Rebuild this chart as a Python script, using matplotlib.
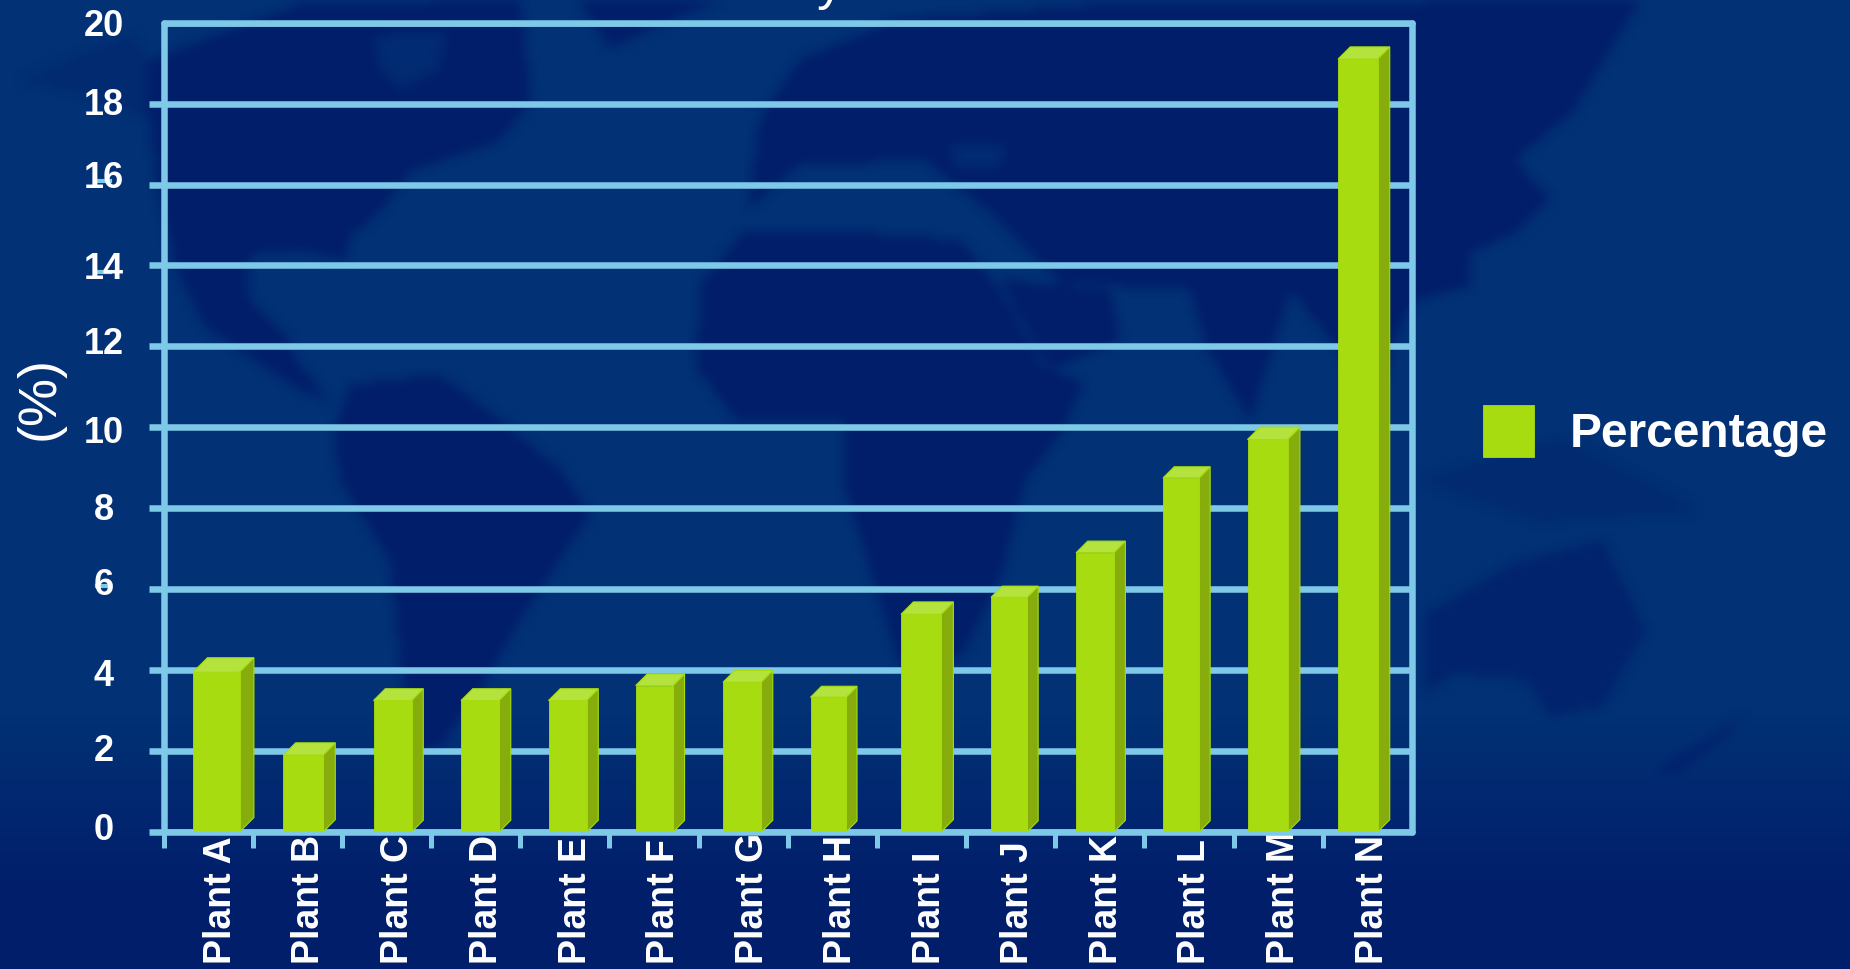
import numpy as np
import matplotlib
matplotlib.use("Agg")
import matplotlib.pyplot as plt
from matplotlib.path import Path
from matplotlib.patches import Polygon
from matplotlib.lines import Line2D
from matplotlib.transforms import ScaledTranslation

# ---------- data ----------
categories = ["Plant A", "Plant B", "Plant C", "Plant D", "Plant E", "Plant F", "Plant G",
              "Plant H", "Plant I", "Plant J", "Plant K", "Plant L", "Plant M", "Plant N"]
percentages = [3.95, 1.9, 3.25, 3.25, 3.25, 3.62, 3.7, 3.33, 5.38, 5.8, 6.9, 8.75, 9.7, 19.1]
y_ticks = [0, 2, 4, 6, 8, 10, 12, 14, 16, 18, 20]
series_name = "Percentage"
y_title = "(%)"

# ---------- style / layout (pixels of the 1850x969 canvas) ----------
W, H, DPI = 1850, 969, 100
AX_L, AX_R, AX_T, AX_B = 163.5, 1412, 22.7, 832
bar_left_px = [193, 283.3, 373.5, 461, 548.5, 635.7, 723, 810.5, 901, 991, 1076, 1163, 1247.5, 1338]
bar_right_px = [239.5, 323, 411.5, 499, 586.5, 673, 761, 846, 941, 1027, 1113.7, 1199, 1287.5, 1377.5]
label_center_px = [215.7, 304, 393, 482, 571, 659, 748, 836, 925, 1013, 1101.7, 1190, 1279, 1368]
label_nudge_px = 5
y_label_center_px = 103.5
y_label_shift_px = {0: -5, 2: -4, 4: 2, 6: -8, 8: -2, 10: 2, 12: -5.5, 14: 0.5, 16: -10.5, 18: -2, 20: 0}
stub_ticks_px = [(97, 110, 181), (97, 110, 272), (97, 110, 586)]
FRONT, SIDE, TOP = "#A6DC10", "#86AD0C", "#B4E33E"
LINE = "#7EC8E8"
WHITE = "white"
plt.rcParams["font.family"] = ["Liberation Sans", "DejaVu Sans"]

fig = plt.figure(figsize=(W / DPI, H / DPI), dpi=DPI)

# ---------- decorative backdrop: gradient + soft world-map silhouette (canvas pixels) ----------
land = [
    (1.0, [(150,60),(300,5),(520,0),(531,100),(501,140),(413,170),(383,207),(348,240),(345,260),(300,250),
           (248,255),(248,300),(289,340),(295,360),(330,400),(300,390),(206,327),(177,270),(160,200),(150,120)]),
    (0.35, [(20,80),(130,35),(150,60),(150,120),(90,95)]),
    (1.0, [(578,0),(720,0),(660,25),(610,48)]),
    (1.0, [(350,385),(440,375),(500,420),(560,470),(590,515),(560,560),(520,620),(480,690),(440,745),(410,750),
           (400,650),(390,560),(340,480),(335,430)]),
    (1.0, [(743,233),(702,283),(696,367),(737,420),(843,420),(843,480),(880,600),(900,665),(960,657),(1002,573),
           (1025,480),(1061,433),(1084,383),(1043,367),(1000,290),(960,240),(860,233)]),
    (1.0, [(1000,280),(1110,290),(1120,340),(1050,370)]),
    (1.0, [(749,207),(760,120),(800,60),(900,20),(1100,5),(1640,0),(1574,110),(1515,160),(1550,200),(1515,233),
           (1468,253),(1468,287),(1415,300),(1397,333),(1370,420),(1340,350),(1290,290),(1250,420),(1208,350),
           (1190,290),(1060,283),(1000,220),(925,160),(800,165)]),
    (0.35, [(1420,480),(1560,440),(1700,510),(1540,520)]),
    (0.7, [(1426,613),(1515,563),(1603,540),(1645,630),(1603,707),(1550,717),(1527,680),(1456,673),(1426,693)]),
    (0.5, [(1656,770),(1745,713),(1730,735),(1675,775)]),
]
water = [
    [(372,35),(448,30),(440,70),(400,90),(380,70)],
    [(949,143),(1007,143),(1000,170),(955,170)],
]
gw, gh = W // 4, H // 4
gx, gy = np.meshgrid((np.arange(gw) + .5) * W / gw, (np.arange(gh) + .5) * H / gh)
pts = np.c_[gx.ravel(), gy.ravel()]
mask = np.zeros(gx.shape)
for strength, poly in land:
    mask = np.maximum(mask, strength * Path(poly).contains_points(pts).reshape(gx.shape))
for poly in water:
    mask[Path(poly).contains_points(pts).reshape(gx.shape)] *= 0.3
kern = np.ones(3) / 3
for _ in range(2):
    mask = np.apply_along_axis(lambda r: np.convolve(r, kern, mode="same"), 0, mask)
    mask = np.apply_along_axis(lambda r: np.convolve(r, kern, mode="same"), 1, mask)
ocean = np.array([2, 49, 117], float)
deep = np.array([1, 30, 107], float)
t = np.clip((gy / H - 0.74) / 0.18, 0, 1)[..., None]
mix = np.clip(mask[..., None] + t, 0, 1)
img = ocean * (1 - mix) + deep * mix
bg = fig.add_axes([0, 0, 1, 1], zorder=0)
bg.imshow(img.astype(np.uint8), extent=(0, W, H, 0), aspect="auto", interpolation="bilinear")
bg.set_xlim(0, W); bg.set_ylim(H, 0)
bg.axis("off")

# ---------- chart ----------
ax = fig.add_axes([AX_L / W, 1 - AX_B / H, (AX_R - AX_L) / W, (AX_B - AX_T) / H], zorder=1)
ax.patch.set_alpha(0)
n = len(categories)
ax.set_xlim(0, n)
ax.set_ylim(0, 20)
px_x = (AX_R - AX_L) / n
px_y = (AX_B - AX_T) / 20

lefts = [(p - AX_L) / px_x for p in bar_left_px]
widths = [(r - p) / px_x for p, r in zip(bar_left_px, bar_right_px)]
bars = ax.bar(lefts, percentages, width=widths, align="edge", color=FRONT, edgecolor=FRONT,
              linewidth=0.6, zorder=5, label=series_name)
for x0, w, v, l, r in zip(lefts, widths, percentages, bar_left_px, bar_right_px):
    d = 0.31 * (r - l)
    dx, dy = d / px_x, d / px_y
    x1 = x0 + w
    ax.add_patch(Polygon([(x1, 0), (x1 + dx, dy), (x1 + dx, v + dy), (x1, v)], closed=True,
                         facecolor=SIDE, edgecolor=FRONT, linewidth=0.8, zorder=4))
    ax.add_patch(Polygon([(x0, v), (x0 + dx, v + dy), (x1 + dx, v + dy), (x1, v)], closed=True,
                         facecolor=TOP, edgecolor=FRONT, linewidth=0.8, zorder=4))

ax.set_axisbelow(True)
ax.yaxis.grid(True, color=LINE, linewidth=4.7, zorder=1)
ax.xaxis.grid(False)
for s in ax.spines.values():
    s.set_color(LINE)
    s.set_linewidth(4.7)
    s.set_zorder(2)
    s.set_capstyle("round")

TICK_PT = 11
ax.set_yticks(y_ticks)
ax.set_yticklabels([str(v) for v in y_ticks], fontsize=26, fontweight="bold", color=WHITE, ha="center")
pad_pt = (AX_L - TICK_PT * DPI / 72 - y_label_center_px) * 72 / DPI
ax.tick_params(axis="y", length=TICK_PT, width=4.7, color=LINE, pad=pad_pt)
for v, lab in zip(y_ticks, ax.get_yticklabels()):
    lab.set_transform(lab.get_transform() +
                      ScaledTranslation(0, -y_label_shift_px[v] / DPI, fig.dpi_scale_trans))
    lab.set_zorder(6)
ax.yaxis.get_major_ticks()[-1].tick1line.set_visible(False)

ax.set_xticks(range(n + 1))
ax.set_xticklabels([])
ax.tick_params(axis="x", which="major", length=11.5, width=3.6, color=LINE)
ax.xaxis.get_major_ticks()[-1].tick1line.set_visible(False)
centers = [i + .5 for i in range(n)]
ax.set_xticks(centers, minor=True)
ax.set_xticklabels(categories, minor=True, rotation=90, fontsize=27, fontweight="bold",
                   color=WHITE, va="bottom", ha="center")
ax.tick_params(axis="x", which="minor", length=0, pad=95)
for c, lab, px in zip(centers, ax.get_xticklabels(minor=True), label_center_px):
    shift = px + label_nudge_px - (AX_L + c * px_x)
    lab.set_transform(lab.get_transform() + ScaledTranslation(shift / DPI, 0, fig.dpi_scale_trans))

# short stray dashes behind three of the tick labels
for x0, x1, y in stub_ticks_px:
    fig.add_artist(Line2D([x0 / W, x1 / W], [1 - y / H, 1 - y / H], color=LINE, linewidth=3, zorder=0.5))

fig.text(40 / W, 1 - 398 / H, y_title, rotation=90, fontsize=39, color=WHITE, ha="center", va="center")
fig.text(830 / W, 1 - (-1) / H, "y", fontsize=38, color=WHITE, ha="center", va="baseline")

leg = ax.legend(loc="center left", bbox_to_anchor=(1483 / W, 1 - 431 / H), bbox_transform=fig.transFigure,
                frameon=False, prop={"size": 34.5, "weight": "bold"}, labelcolor=WHITE,
                handlelength=1.06, handleheight=1.3, handletextpad=0.75, borderpad=0, borderaxespad=0)

fig.savefig("out.png", dpi=DPI)
